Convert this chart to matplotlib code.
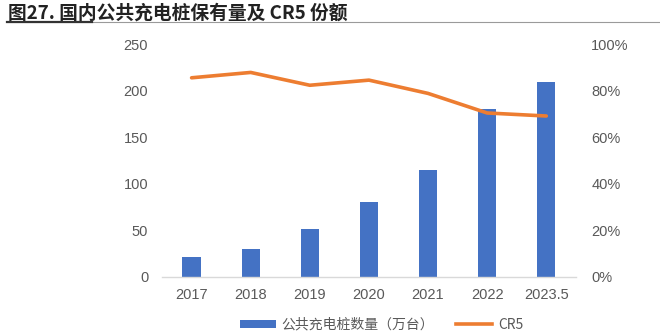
import matplotlib

matplotlib.use("Agg")
import matplotlib.pyplot as plt
from matplotlib.lines import Line2D
from matplotlib.patches import Patch
import numpy as np

plt.rcParams["font.family"] = ["Noto Sans CJK SC", "DejaVu Sans"]

years = ["2017", "2018", "2019", "2020", "2021", "2022", "2023.5"]
piles = [21.5, 30, 51.5, 80.5, 115, 180, 209.5]      # 万台
cr5 = [85.5, 87.8, 82.3, 84.5, 78.8, 70.4, 69.1]     # %

BLUE = "#4472C4"
ORANGE = "#ED7D31"
GREY = "#595959"

fig = plt.figure(figsize=(6.6, 3.36), dpi=100)
ax = fig.add_axes([0.2455, 0.1756, 0.627, 0.6934])
ax2 = ax.twinx()

x = np.arange(len(years))
ax.bar(x, piles, width=0.31, color=BLUE, zorder=2)
ax2.plot(x, cr5, color=ORANGE, lw=2.6, solid_capstyle="round", zorder=3)

ax.set_xlim(-0.5, len(years) - 0.5)
ax.set_ylim(0, 250)
ax.set_yticks(range(0, 251, 50))
ax2.set_ylim(0, 100)
ax2.set_yticks(range(0, 101, 20))
ax2.set_yticklabels([f"{v}%" for v in range(0, 101, 20)])

ax.set_xticks(x)
ax.set_xticklabels(years)

tick_font = ["Liberation Sans", "DejaVu Sans"]
for a in (ax, ax2):
    for s in a.spines.values():
        s.set_visible(False)
    a.tick_params(length=0, colors=GREY, labelsize=10.5)
    for lab in a.get_yticklabels() + a.get_xticklabels():
        lab.set_family(tick_font)
ax.spines["bottom"].set_visible(True)
ax.spines["bottom"].set_color("#D9D9D9")
ax.spines["bottom"].set_linewidth(1.0)
ax.tick_params(axis="y", pad=10)
ax.tick_params(axis="x", pad=8)
ax2.tick_params(axis="y", pad=11)

# title with rule underneath
fig.text(0.012, 0.962, "图27. 国内公共充电桩保有量及 CR5 份额", fontsize=13.5,
         fontweight="bold", color="#222222", va="center", ha="left")
fig.add_artist(Line2D([0.011, 1.0], [0.934, 0.934], color="#9A9A9A", lw=0.8))
fig.add_artist(Line2D([0.011, 0.14], [0.934, 0.934], color="#333333", lw=1.6))

handles = [Patch(facecolor=BLUE), Line2D([0], [0], color=ORANGE, lw=2.6)]
labels = ["公共充电桩数量（万台）", "CR5"]
fig.legend(handles, labels, loc="center", bbox_to_anchor=(0.578, 0.033), ncol=2,
           frameon=False, fontsize=10, labelcolor=GREY, handlelength=2.6,
           handleheight=0.5, columnspacing=1.6, handletextpad=0.4)

fig.savefig("out.png", dpi=100, facecolor="white")
